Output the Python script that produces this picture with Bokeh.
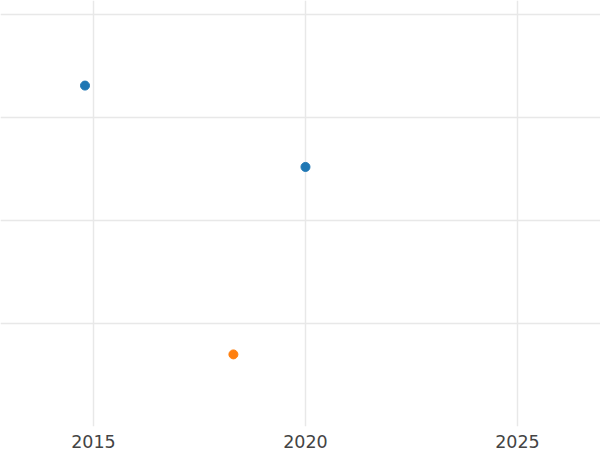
from bokeh.plotting import figure
from bokeh.models import FixedTicker, Range1d
from bokeh.embed import file_html
from bokeh.resources import INLINE

# data
blue_x = [2014.8, 2020.0]
blue_y = [3.31, 2.52]
orange_x = [2018.3]
orange_y = [0.70]
x_ticks = [2015, 2020, 2025]
y_ticks = [0, 1, 2, 3, 4]

p = figure(frame_width=600, frame_height=426, output_backend="svg", toolbar_location=None,
           x_range=Range1d(2012.807, 2026.958), y_range=Range1d(0, 4.136),
           min_border_left=0, min_border_right=0, min_border_top=0, min_border_bottom=0)
p.outline_line_color = None
p.background_fill_color = "white"

p.xaxis.ticker = FixedTicker(ticks=x_ticks)
p.yaxis.ticker = FixedTicker(ticks=y_ticks)
p.xaxis.axis_line_color = None
p.xaxis.major_tick_line_color = None
p.xaxis.minor_tick_line_color = None
p.xaxis.major_label_text_font = "DejaVu Sans"
p.xaxis.major_label_text_font_size = "17.5px"
p.xaxis.major_label_text_color = "#444444"
p.xaxis.major_label_standoff = 2
p.yaxis.visible = False

p.xgrid.grid_line_color = "#e8e8e8"
p.ygrid.grid_line_color = "#e8e8e8"
p.xgrid.grid_line_width = 1.5
p.ygrid.grid_line_width = 1.5

p.scatter(blue_x, blue_y, size=9, color="#1f77b4")
p.scatter(orange_x, orange_y, size=9, color="#ff7f0e")

open("out.html", "w").write(file_html(p, INLINE))
